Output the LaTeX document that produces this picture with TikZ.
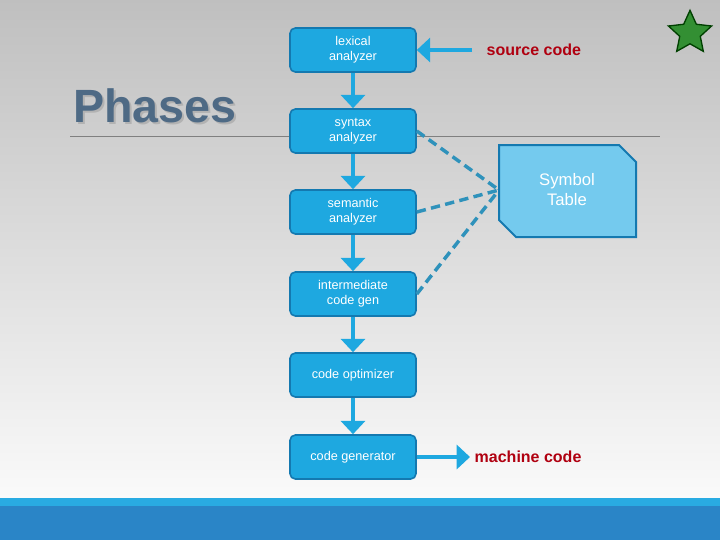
\documentclass[tikz,border=0pt]{standalone}
\usepackage{fontspec}
\setmainfont{Liberation Sans}
\usetikzlibrary{shapes.geometric,arrows.meta,shadows}
\definecolor{boxblue}{HTML}{1EA8E0}
\definecolor{boxedge}{HTML}{1479B0}
\definecolor{symfill}{HTML}{74CAEE}
\definecolor{darkred}{HTML}{B00010}
\definecolor{barlight}{HTML}{29ABE2}
\definecolor{bardark}{HTML}{2A85C7}
\definecolor{phasecol}{HTML}{4E6A85}
\begin{document}
\begin{tikzpicture}[x=0.75pt,y=-0.75pt,
  phase/.style={draw=boxedge,line width=1.2pt,fill=boxblue,rounded corners=4pt,minimum width=94.5pt,minimum height=33pt,align=center,text=white,font=\fontsize{9.5}{11}\selectfont,inner sep=1pt},
  flow/.style={draw=boxblue,line width=3.5pt,-{Triangle[width=18pt,length=10pt]}},
  symlink/.style={draw=boxblue!80!black!90,line width=2.6pt,dash pattern=on 7pt off 4pt},
  iolabel/.style={text=darkred,font=\bfseries\fontsize{12}{14}\selectfont}]
\useasboundingbox (0,0) rectangle (720,540);
\shade[top color=black!25,bottom color=black!2] (0,0) rectangle (720,498);
\fill[barlight] (0,498) rectangle (720,506);
\fill[bardark] (0,506) rectangle (720,540);
\draw[black!50,line width=0.6pt] (70,136) -- (660,136);
\node[text=black!30,font=\bfseries\fontsize{35}{38}\selectfont] at (157,108) {Phases};
\node (title) [text=phasecol,font=\bfseries\fontsize{35}{38}\selectfont] at (155,106) {Phases};
\node[star,star points=5,star point ratio=2.1,minimum size=34pt,inner sep=0pt,fill=green!45!black!80,draw=green!25!black,line width=1pt] (star) at (690,33) {};
\node[phase] (lex) at (353,50) {lexical\\analyzer};
\node[phase] (syn) at (353,131) {syntax\\analyzer};
\node[phase] (sem) at (353,212) {semantic\\analyzer};
\node[phase] (int) at (353,294) {intermediate\\code gen};
\node[phase] (opt) at (353,375) {code optimizer};
\node[phase] (gen) at (353,457) {code generator};
\node[iolabel,anchor=west] (src) at (482,50) {source code};
\node[iolabel,anchor=west] (mc) at (470,457) {machine code};
\coordinate (srcend) at (472,50);
\coordinate (st) at (499,190);
\draw[symlink] (syn.east) -- (st);
\draw[symlink] (sem.east) -- (st);
\draw[symlink] (int.east) -- (st);
\draw[fill=symfill,draw=boxedge,line width=1.5pt] (499,145) -- (619,145) -- (636,162) -- (636,237) -- (516,237) -- (499,220) -- cycle;
\node[text=white,align=center,font=\fontsize{12.5}{15}\selectfont] (sym) at (567,190) {Symbol\\Table};
\draw[flow] (srcend) -- (lex.east);
\draw[flow] (lex) -- (syn);
\draw[flow] (syn) -- (sem);
\draw[flow] (sem) -- (int);
\draw[flow] (int) -- (opt);
\draw[flow] (opt) -- (gen);
\draw[flow] (gen.east) -- (mc.west);
\end{tikzpicture}
\end{document}
